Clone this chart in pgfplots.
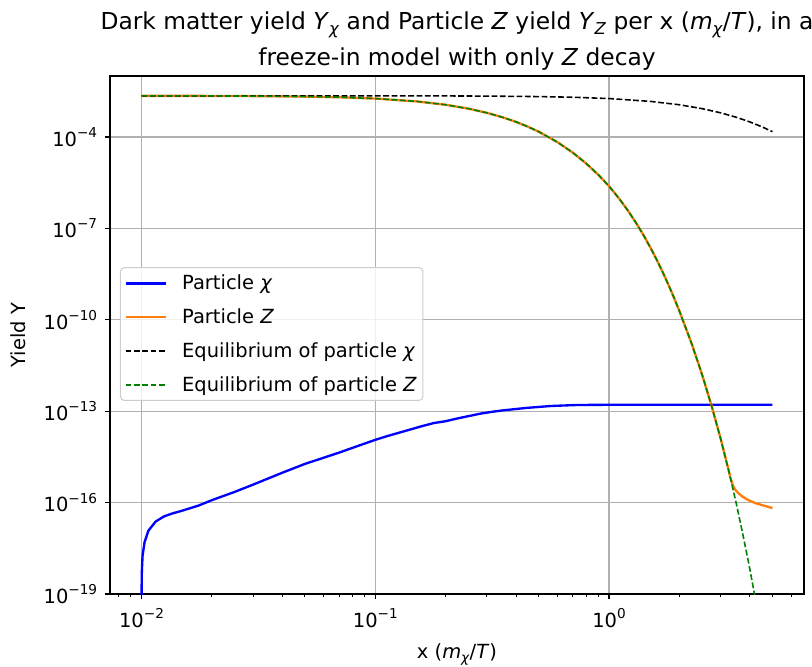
\documentclass[border=0pt]{standalone}
\usepackage{fontspec}
\setmainfont{DejaVu Sans}
\usepackage{graphicx}
\usepackage{pgfplots}
\pgfplotsset{compat=1.18}
\usetikzlibrary{calc}

\definecolor{mplblue}{HTML}{0000FF}
\definecolor{mplorange}{HTML}{FF7F0E}
\definecolor{mplgreen}{HTML}{008000}
\definecolor{gridgray}{HTML}{B0B0B0}
\definecolor{legendedge}{HTML}{CCCCCC}

% raised / lowered small text for exponents and indices
\newcommand\sups[1]{\raisebox{0.45em}{\scalebox{0.7}{#1}}}
\newcommand\subs[1]{\raisebox{-0.22em}{\scalebox{0.7}{#1}}}
\newcommand\tickfont{\fontsize{14.6}{17}\selectfont}
\newcommand\titlefont{\fontsize{17.5}{21}\selectfont}

\begin{document}
\begin{tikzpicture}
\begin{axis}[
  width=520.5pt, height=388.5pt, scale only axis,
  xmode=log, ymode=log,
  xmin=0.00733, xmax=6.82,
  ymin=1e-19, ymax=1e-2,
  axis line style={black, line width=0.94pt},
  xtick={0.01,0.1,1},
  xticklabels={10\sups{−2},10\sups{−1},10\sups{0}},
  minor xtick={0.008,0.009,0.02,0.03,0.04,0.05,0.06,0.07,0.08,0.09,0.2,0.3,0.4,0.5,0.6,0.7,0.8,0.9,2,3,4,5,6},
  ytick={1e-19,1e-16,1e-13,1e-10,1e-7,1e-4},
  yticklabels={10\sups{−19},10\sups{−16},10\sups{−13},10\sups{−10},10\sups{−7},10\sups{−4}},
  minor ytick={},
  xtick pos=bottom, ytick pos=left,
  tick align=outside,
  major tick length=4.1pt, minor tick length=2.35pt,
  major tick style={black, line width=0.94pt},
  minor tick style={black, line width=0.7pt},
  ticklabel style={font=\tickfont},
  xticklabel style={yshift=-3.5pt},
  yticklabel style={xshift=-2pt},
  grid=major,
  major grid style={gridgray, line width=0.9pt},
  xlabel={x (\textit{m}\subs{\textit{χ}}/\textit{T})},
  ylabel={Yield Y},
  label style={font=\tickfont},
  xlabel style={at={(axis description cs:0.5,-0.117)}, anchor=center},
  ylabel style={at={(axis description cs:-0.1320,0.5)}, anchor=center},
  legend cell align=left,
  legend style={
    at={(axis description cs:0.0144,0.631)}, anchor=north west,
    draw=legendedge, line width=0.75pt, rounded corners=3pt,
    fill=white, fill opacity=0.8, text opacity=1, draw opacity=1,
    font=\tickfont, row sep=9.75pt, inner xsep=3pt, inner ysep=4pt,
    nodes={inner sep=1.5pt},
    /tikz/every odd column/.append style={column sep=10pt},
  },
  legend image code/.code={\draw[#1] (0pt,0pt) -- (30pt,0pt);},
  every axis plot/.append style={line join=round},
]

% dark matter yield
\addplot[mplblue, line width=1.76pt] coordinates {
  (0.01,1e-21) (0.01001,1.778e-19) (0.01003,5.623e-19) (0.0101,1.778e-18)
  (0.0103,5.012e-18) (0.0107,1.202e-17) (0.0115,2.399e-17) (0.0125,3.548e-17)
  (0.0135,4.365e-17) (0.015,5.495e-17) (0.0175,7.943e-17) (0.02,1.202e-16)
  (0.025,2.239e-16) (0.03,3.890e-16) (0.04,9.550e-16) (0.05,1.862e-15)
  (0.06,2.951e-15) (0.07,4.365e-15) (0.085,7.413e-15) (0.1,1.148e-14)
  (0.1122,1.514e-14) (0.1259,1.950e-14) (0.1413,2.512e-14) (0.1585,3.236e-14)
  (0.1778,4.074e-14) (0.1995,4.677e-14) (0.2239,5.754e-14) (0.2512,6.918e-14)
  (0.2818,8.318e-14) (0.3162,9.550e-14) (0.3548,1.072e-13) (0.3981,1.175e-13)
  (0.4467,1.288e-13) (0.5012,1.380e-13) (0.5623,1.479e-13) (0.6310,1.531e-13)
  (0.7079,1.585e-13) (0.7943,1.603e-13) (1.0,1.622e-13) (2.0,1.622e-13)
  (5.0,1.622e-13)
};
\addlegendentry{Particle \textit{χ}}

% particle Z yield
\addplot[mplorange, line width=1.76pt] coordinates {
  (0.01,2.234e-3) (0.02,2.218e-3) (0.03,2.193e-3) (0.05,2.113e-3)
  (0.07,2.009e-3) (0.1,1.820e-3) (0.15,1.469e-3) (0.2,1.138e-3)
  (0.25,8.492e-4) (0.3,6.194e-4) (0.35,4.426e-4) (0.4,3.119e-4)
  (0.45,2.163e-4) (0.5,1.486e-4) (0.6,6.823e-5) (0.7,3.041e-5)
  (0.8,1.327e-5) (0.9,5.689e-6) (1.0,2.415e-6) (1.1,9.840e-7)
  (1.2,3.972e-7) (1.3,1.574e-7) (1.4,6.194e-8) (1.5,2.393e-8)
  (1.6,9.204e-9) (1.7,3.516e-9) (1.8,1.340e-9) (1.9,5.070e-10)
  (2.0,1.914e-10) (2.25,1.734e-11) (2.5,1.581e-12) (2.75,1.419e-13)
  (3.0,1.262e-14) (3.25,1.109e-15) (3.3,6.761e-16) (3.38,3.802e-16)
  (3.45,2.754e-16) (3.55,2.138e-16) (3.7,1.622e-16) (3.9,1.259e-16)
  (4.2,9.772e-17) (4.5,8.318e-17) (4.75,7.413e-17) (5.0,6.607e-17)
};
\addlegendentry{Particle \textit{Z}}

% equilibrium yield of chi
\addplot[black, line width=1.18pt, dash pattern=on 4.35pt off 1.9pt] coordinates {
  (0.01,2.239e-3) (0.05,2.237e-3) (0.1,2.234e-3) (0.2,2.218e-3) (0.3,2.193e-3)
  (0.5,2.113e-3) (0.7,2.009e-3) (1.0,1.820e-3) (1.5,1.469e-3)
  (2.0,1.138e-3) (2.5,8.492e-4) (3.0,6.194e-4) (3.5,4.426e-4)
  (4.0,3.119e-4) (4.5,2.163e-4) (5.0,1.486e-4)
};
\addlegendentry{Equilibrium of particle \textit{χ}}

% equilibrium yield of Z
\addplot[mplgreen, line width=1.18pt, dash pattern=on 4.35pt off 1.9pt] coordinates {
  (0.01,2.234e-3) (0.02,2.218e-3) (0.03,2.193e-3) (0.05,2.113e-3)
  (0.07,2.009e-3) (0.1,1.820e-3) (0.15,1.469e-3) (0.2,1.138e-3)
  (0.25,8.492e-4) (0.3,6.194e-4) (0.35,4.426e-4) (0.4,3.119e-4)
  (0.45,2.163e-4) (0.5,1.486e-4) (0.6,6.823e-5) (0.7,3.041e-5)
  (0.8,1.327e-5) (0.9,5.689e-6) (1.0,2.415e-6) (1.1,9.840e-7)
  (1.2,3.972e-7) (1.3,1.574e-7) (1.4,6.194e-8) (1.5,2.393e-8)
  (1.6,9.204e-9) (1.7,3.516e-9) (1.8,1.340e-9) (1.9,5.070e-10)
  (2.0,1.914e-10) (2.25,1.734e-11) (2.5,1.581e-12) (2.75,1.419e-13)
  (3.0,1.262e-14) (3.25,1.109e-15) (3.5,9.462e-17) (3.75,7.816e-18)
  (4.0,6.577e-19) (4.25,5.383e-20) (4.5,4.477e-21) (5.0,3.141e-23)
};
\addlegendentry{Equilibrium of particle \textit{Z}}

\coordinate (SW) at (rel axis cs:0,0);
\coordinate (NE) at (rel axis cs:1,1);
\coordinate (TOP) at (rel axis cs:0.5,1);
\end{axis}

% two-line title above the frame
\node[anchor=base, font=\titlefont] at ($(TOP)+(0,7.5pt)$)
  {freeze-in model with only \textit{Z} decay};
\node[anchor=base, font=\titlefont] at ($(TOP)+(0,35pt)$)
  {Dark matter yield \textit{Y}\subs{\textit{χ}} and Particle \textit{Z} yield \textit{Y}\subs{\textit{Z}} per x (\textit{m}\subs{\textit{χ}}/\textit{T}), in a};

\pgfresetboundingbox
\useasboundingbox ($(SW)+(-82.5pt,-54pt)$) rectangle ($(NE)+(6pt,57pt)$);
\end{tikzpicture}
\end{document}
